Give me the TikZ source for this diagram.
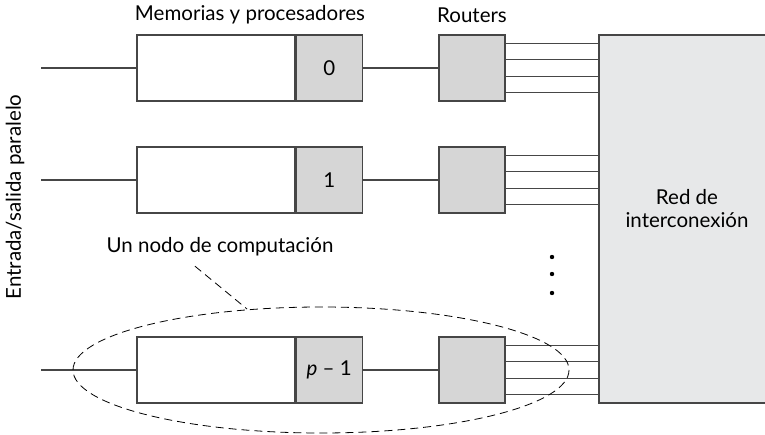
\documentclass[tikz,border=0pt]{standalone}
\usepackage{fontspec}
\setmainfont{Lato}
\definecolor{procgray}{RGB}{214,214,214}
\definecolor{netgray}{RGB}{231,232,233}
\definecolor{linegray}{RGB}{70,70,70}
\begin{document}
\begin{tikzpicture}[x=1pt,y=-1pt,line width=1.2pt,draw=linegray,
  font=\fontsize{20.5}{24}\selectfont,
  memo/.style={draw=linegray,fill=white,minimum width=158pt,minimum height=66pt,inner sep=0pt},
  proc/.style={draw=linegray,fill=procgray,minimum width=66pt,minimum height=66pt,inner sep=0pt},
  router/.style={draw=linegray,fill=procgray,minimum width=66pt,minimum height=66pt,inner sep=0pt},
  net/.style={draw=linegray,fill=netgray,minimum width=172pt,minimum height=368pt}]
\useasboundingbox (0,0) rectangle (765,435);
% red de interconexion (sale por la derecha)
\node[net] (net) at (685,219) {};
\node[align=center] (netlabel) at (687,209) {Red de\\[-1pt]interconexión};
% filas
\foreach \name/\y/\lab in {a/68/0,b/180/1,c/370/{\textit{p} -- 1}}{
  \coordinate (in\name) at (41,\y);
  \node[memo] (mem\name) at (216,\y) {};
  \node[proc,anchor=west] (proc\name) at (mem\name.east) {\lab};
  \node[router] (rout\name) at (472,\y) {};
  \draw (in\name) -- (mem\name);
  \draw (proc\name) -- (rout\name);
  \foreach \off [count=\k] in {24.5,8.2,-8.2,-24.5}{
    \coordinate (out\name\k) at ([yshift=\off pt]rout\name.east);
    \draw (out\name\k) -- (net.west |- out\name\k);
  }
}
% puntos
\foreach \y in {257,274,293}
  \fill[black] (552,\y) circle[radius=2.2pt];
% textos
\node (memlabel) at (250,15) {Memorias y procesadores};
\node (routlabel) at (472,15) {Routers};
\node[rotate=90] (es) at (15,197) {Entrada/salida paralelo};
\node (nodo) at (220,247) {Un nodo de computación};
% nodo de computacion
\coordinate (lead) at (247,309);
\draw[black,line width=0.8pt,dash pattern=on 8pt off 5pt] (321,370) ellipse [x radius=248, y radius=63];
\draw[black,line width=0.8pt,dash pattern=on 8pt off 5pt] ([xshift=-25pt,yshift=-6pt]nodo.south) -- (lead);
\end{tikzpicture}
\end{document}
